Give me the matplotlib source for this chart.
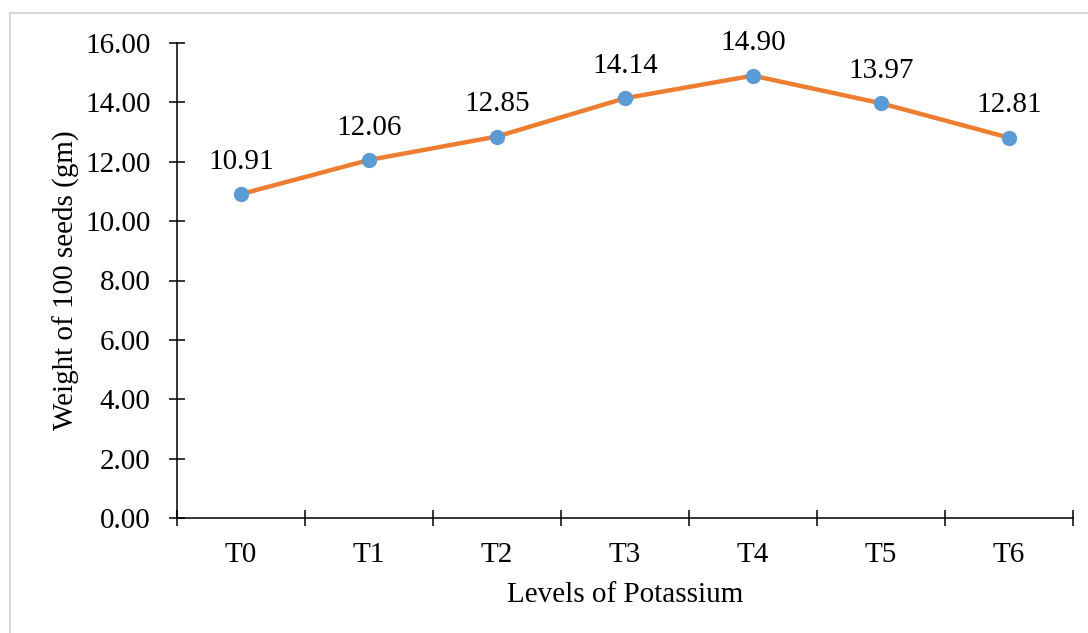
import matplotlib.pyplot as plt
from matplotlib.patches import Rectangle

levels = ['T0', 'T1', 'T2', 'T3', 'T4', 'T5', 'T6']
weight = [10.91, 12.06, 12.85, 14.14, 14.90, 13.97, 12.81]
yticks = [0, 2, 4, 6, 8, 10, 12, 14, 16]

plt.rcParams['font.family'] = ['Liberation Serif', 'DejaVu Serif']
fs = 21

fig = plt.figure(figsize=(10.88, 6.33), dpi=100)
# light grey frame around the chart area
fig.patches.append(Rectangle((10 / 1088, -0.01), 1.0, (633 - 13) / 633 + 0.01,
                             transform=fig.transFigure, fill=False,
                             edgecolor='#d9d9d9', linewidth=1.5))

ax = fig.add_axes([177 / 1088, 115 / 633, 896 / 1088, 475 / 633])
x = list(range(len(levels)))
ax.plot(x, weight, color='#ED7D31', linewidth=3.2, marker='o',
        markersize=10, markerfacecolor='#5B9BD5', markeredgecolor='#5B9BD5',
        zorder=3)
for xi, v in zip(x, weight):
    ax.annotate(f'{v:.2f}', (xi, v), xytext=(0, 14), textcoords='offset points',
                ha='center', va='bottom', fontsize=fs)

ax.set_xlim(-0.5, len(levels) - 0.5)
ax.set_ylim(0, 16)
ax.set_yticks(yticks)
ax.set_yticklabels([f'{t:.2f}' for t in yticks], fontsize=fs)
ax.set_xticks(x)
ax.set_xticklabels(levels, fontsize=fs)
ax.set_xticks([i - 0.5 for i in range(len(levels) + 1)], minor=True)
ax.tick_params(axis='x', which='major', length=0, pad=17)
ax.tick_params(axis='x', which='minor', direction='inout', length=12, width=1.1)
ax.tick_params(axis='y', direction='inout', length=12, width=1.1, pad=13)

for s in ['top', 'right']:
    ax.spines[s].set_visible(False)
for s in ['left', 'bottom']:
    ax.spines[s].set_linewidth(1.1)

ax.set_xlabel('Levels of Potassium', fontsize=fs, labelpad=10)
ax.set_ylabel('Weight of 100 seeds (gm)', fontsize=fs, labelpad=4)

fig.savefig('out.png', dpi=100)
